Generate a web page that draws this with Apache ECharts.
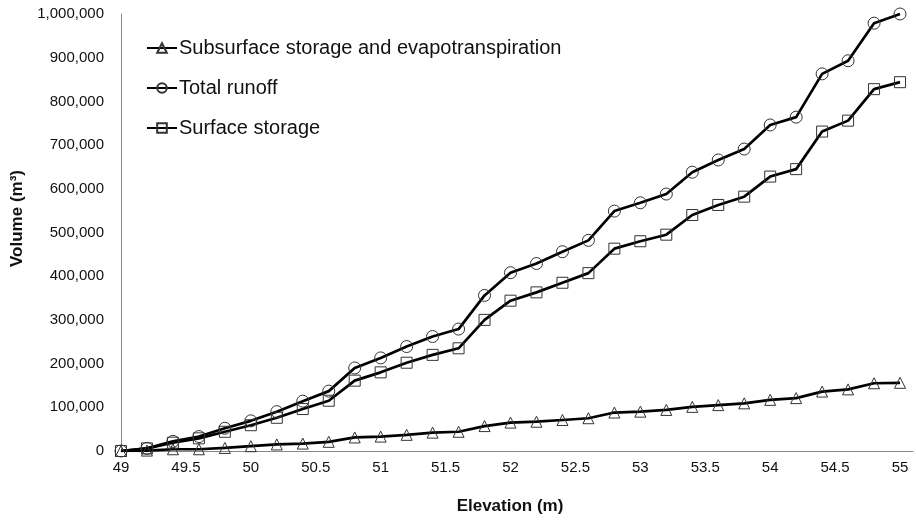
<!DOCTYPE html>
<html><head><meta charset="utf-8">
<script src="https://cdn.jsdelivr.net/npm/echarts@6/dist/echarts.min.js"></script>
<style>html,body{margin:0;padding:0;background:#fff}#c{width:916px;height:521px}</style>
</head><body><div id="c"></div>
<script>
const elevation = [49,49.2,49.4,49.6,49.8,50,50.2,50.4,50.6,50.8,51,51.2,51.4,51.6,51.8,52,52.2,52.4,52.6,52.8,53,53.2,53.4,53.6,53.8,54,54.2,54.4,54.6,54.8,55];
const subsurface = [0,1000,4000,4000,7000,11000,15000,17000,21000,31000,33000,37000,42000,44000,57000,65000,67000,71000,75000,88000,90000,94000,101000,105000,109000,117000,121000,136000,141000,155000,156000];
const totalRunoff = [0,6000,22000,33000,52000,69000,90000,114000,137000,190000,213000,239000,262000,279000,356000,408000,429000,456000,482000,549000,568000,588000,638000,666000,691000,746000,764000,863000,893000,979000,1000000];
const surfaceStorage = [0,6000,19000,29000,44000,59000,76000,96000,115000,161000,180000,202000,220000,235000,300000,344000,363000,385000,407000,463000,480000,495000,540000,563000,582000,628000,645000,731000,756000,828000,844000];
const seriesNames = ['Subsurface storage and evapotranspiration','Total runoff','Surface storage'];
const yTicks = {min:0, max:1000000, interval:100000};

const pair = arr => elevation.map((e,i)=>[e,arr[i]]);
const font = 'Liberation Sans, Arial, sans-serif';
function mk(name, data, symbol, size){
  return {name, type:'line', data:pair(data), symbol, symbolSize:size, showAllSymbol:true,
    lineStyle:{color:'#000', width:2.7}, itemStyle:{color:'rgba(0,0,0,0)', borderColor:'#333', borderWidth:1},
    z:2};
}
const chart = echarts.init(document.getElementById('c'), null, {renderer:'canvas'});
chart.setOption({
  animation:false,
  backgroundColor:'#fff',
  grid:{left:121, right:3, top:14, bottom:70},
  legend:{orient:'vertical', left:141, top:33, itemGap:20, itemWidth:30, itemHeight:12,
    textStyle:{fontFamily:font, fontSize:20, color:'#111', padding:[0,0,0,-3]}, data:seriesNames},
  xAxis:{type:'value', min:49, max:55.1, interval:0.5,
    axisLine:{lineStyle:{color:'#888', width:1}}, axisTick:{show:false}, splitLine:{show:false},
    axisLabel:{fontFamily:font, fontSize:15, color:'#111', margin:9,
      formatter:v=> v>55.01 ? '' : String(v)},
    name:'Elevation (m)', nameLocation:'middle', nameGap:47,
    nameTextStyle:{fontFamily:font, fontSize:17, fontWeight:'bold', color:'#111', padding:[0,14,0,0]}},
  yAxis:{type:'value', min:yTicks.min, max:yTicks.max, interval:yTicks.interval,
    axisLine:{show:true, lineStyle:{color:'#888', width:1}}, axisTick:{show:false}, splitLine:{show:false},
    axisLabel:{fontFamily:font, fontSize:15, color:'#111', margin:17,
      formatter:v=>v.toLocaleString('en-US')},
    name:'Volume (m³)', nameLocation:'middle', nameGap:95,
    nameTextStyle:{fontFamily:font, fontSize:17, fontWeight:'bold', color:'#111', padding:[0,0,0,28]}},
  series:[
    mk(seriesNames[0], subsurface, 'triangle', 11),
    mk(seriesNames[1], totalRunoff, 'circle', 12),
    mk(seriesNames[2], surfaceStorage, 'rect', 11)
  ]
});
</script></body></html>
